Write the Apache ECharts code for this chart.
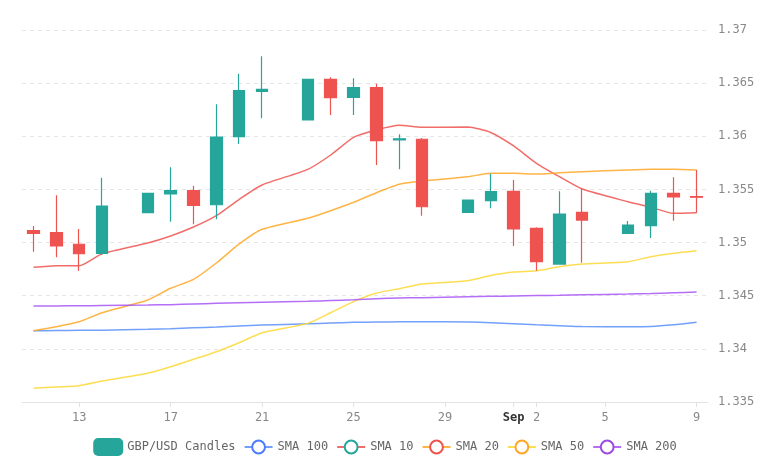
<!DOCTYPE html>
<html>
<head>
<meta charset="utf-8">
<script src="https://cdn.jsdelivr.net/npm/echarts@6/dist/echarts.min.js"></script>
<style>
  html, body { margin: 0; padding: 0; background: #fff; }
  #chart { width: 770px; height: 463px; }
</style>
</head>
<body>
<div id="chart"></div>
<script>
// trading days shown on the chart
var dates = [
  '2025-08-11', '2025-08-12', '2025-08-13', '2025-08-14', '2025-08-16', '2025-08-17',
  '2025-08-18', '2025-08-19', '2025-08-20', '2025-08-21', '2025-08-23', '2025-08-24',
  '2025-08-25', '2025-08-26', '2025-08-27', '2025-08-28', '2025-08-30', '2025-08-31',
  '2025-09-01', '2025-09-02', '2025-09-03', '2025-09-04', '2025-09-06', '2025-09-07',
  '2025-09-08', '2025-09-09'
];
var open = [1.35112, 1.35093, 1.34984, 1.34899, 1.35281, 1.35457, 1.35488, 1.35356, 1.35996, 1.36423,
  1.36153, 1.36536, 1.36367, 1.36457, 1.35965, 1.35972, 1.35285, 1.35394, 1.35482, 1.35134,
  1.34798, 1.35285, 1.35087, 1.35159, 1.35463, 1.35432];
var close = [1.35087, 1.34968, 1.34895, 1.35344, 1.35463, 1.35488, 1.35350, 1.35993, 1.36429, 1.36442,
  1.36536, 1.36363, 1.36457, 1.35959, 1.35977, 1.35337, 1.35400, 1.35479, 1.35128, 1.34820,
  1.35269, 1.35212, 1.35165, 1.35463, 1.35429, 1.35427];
var low = [1.34914, 1.34861, 1.34735, 1.34883, 1.35281, 1.35196, 1.35172, 1.35219, 1.35927, 1.36169,
  1.36153, 1.36200, 1.36200, 1.35730, 1.35689, 1.35253, 1.35285, 1.35322, 1.34968, 1.34735,
  1.34798, 1.34810, 1.35087, 1.35043, 1.35206, 1.35281];
var high = [1.35156, 1.35445, 1.35128, 1.35610, 1.35463, 1.35708, 1.35535, 1.36301, 1.36589, 1.36753,
  1.36536, 1.36555, 1.36545, 1.36495, 1.36019, 1.35984, 1.35400, 1.35648, 1.35589, 1.35144,
  1.35482, 1.35504, 1.35203, 1.35488, 1.35614, 1.35683];

var sma10 = [1.34767, 1.34782, 1.34782, 1.34895, 1.34996, 1.35062, 1.35146, 1.35253, 1.35407, 1.35542,
  1.35689, 1.35824, 1.35990, 1.36059, 1.36103, 1.36085, 1.36087, 1.36036, 1.35909, 1.35746,
  1.35620, 1.35504, 1.35384, 1.35332, 1.35275, 1.35281];
var sma20 = [1.34171, 1.34208, 1.34255, 1.34340, 1.34460, 1.34570, 1.34654, 1.34808, 1.34987, 1.35125,
  1.35229, 1.35300, 1.35379, 1.35469, 1.35548, 1.35579, 1.35620, 1.35652, 1.35652, 1.35645,
  1.35657, 1.35667, 1.35683, 1.35689, 1.35689, 1.35683];
var sma50 = [1.33629, 1.33641, 1.33653, 1.33697, 1.33770, 1.33832, 1.33902, 1.33973, 1.34058, 1.34152,
  1.34240, 1.34340, 1.34444, 1.34525, 1.34566, 1.34610, 1.34641, 1.34690, 1.34723, 1.34735,
  1.34773, 1.34798, 1.34820, 1.34867, 1.34899, 1.34923];
var sma100 = [1.34171, 1.34172, 1.34174, 1.34176, 1.34184, 1.34190, 1.34198, 1.34206, 1.34215, 1.34224,
  1.34236, 1.34243, 1.34250, 1.34252, 1.34254, 1.34255, 1.34252, 1.34246, 1.34236, 1.34226,
  1.34218, 1.34210, 1.34208, 1.34210, 1.34226, 1.34250];
var sma200 = [1.34403, 1.34404, 1.34405, 1.34407, 1.34412, 1.34416, 1.34422, 1.34428, 1.34433, 1.34438,
  1.34448, 1.34455, 1.34462, 1.34472, 1.34478, 1.34482, 1.34490, 1.34494, 1.34498, 1.34501,
  1.34504, 1.34508, 1.34515, 1.34520, 1.34527, 1.34535];

// x-axis tick dates and their labels
var tickDates = ['2025-08-13', '2025-08-17', '2025-08-21', '2025-08-25', '2025-08-29',
  '2025-09-01', '2025-09-02', '2025-09-05', '2025-09-09'];
var tickLabels = ['13', '17', '21', '25', '29', 'Sep', '2', '5', '9'];
var xRange = ['2025-08-10', '2025-09-09']; // half a day padding added on each side

var yTicks = { min: 1.335, max: 1.37, step: 0.005 };

var UP = '#26a69a', DOWN = '#ef5350';
var FONT = "'DejaVu Sans Mono', monospace";

// day number counted from the start of August (UTC, so no DST drift)
function dayNum(s) {
  var p = s.split('-');
  return Math.round((Date.UTC(+p[0], +p[1] - 1, +p[2]) - Date.UTC(2025, 7, 0)) / 86400000);
}

function pairs(vals) {
  return dates.map(function (d, i) { return [dayNum(d), vals[i]]; });
}

var candles = dates.map(function (d, i) {
  return [dayNum(d), open[i], close[i], low[i], high[i]];
});

var tickDays = tickDates.map(dayNum);

function smaSeries(name, values, lineColor, dotColor, z) {
  return {
    name: name,
    type: 'line',
    data: pairs(values),
    showSymbol: false,
    symbol: 'emptyCircle',
    symbolSize: 8,
    smooth: 0.2,
    z: z,
    itemStyle: { color: dotColor },
    lineStyle: { color: lineColor, width: 1.5, opacity: 0.85 },
    emphasis: { disabled: true }
  };
}

var chart = echarts.init(document.getElementById('chart'));
chart.setOption({
  animation: false,
  grid: { left: 22, right: 62, top: 30, bottom: 61 },
  legend: {
    bottom: 2,
    itemWidth: 28,
    itemHeight: 16,
    itemGap: 8,
    textStyle: { fontFamily: FONT, fontSize: 12, color: '#666' },
    data: ['GBP/USD Candles', 'SMA 100', 'SMA 10', 'SMA 20', 'SMA 50', 'SMA 200']
  },
  xAxis: {
    type: 'value',
    min: dayNum(xRange[0]) + 0.5,
    max: dayNum(xRange[1]) + 0.5,
    axisLine: { lineStyle: { color: '#e3e3e3' } },
    axisTick: { show: true, customValues: tickDays, lineStyle: { color: '#e3e3e3' } },
    axisLabel: {
      fontFamily: FONT, fontSize: 12, color: '#888', margin: 10,
      hideOverlap: false,
      customValues: tickDays,
      formatter: function (v) {
        var i = tickDays.indexOf(Math.round(v));
        var t = i >= 0 ? tickLabels[i] : '';
        return isNaN(+t) ? '{m|' + t + '}' : t;
      },
      rich: { m: { fontFamily: FONT, fontSize: 12, fontWeight: 'bold', color: '#333' } }
    },
    splitLine: { show: false }
  },
  yAxis: {
    type: 'value',
    position: 'right',
    min: yTicks.min,
    max: yTicks.max,
    interval: yTicks.step,
    axisLine: { show: false },
    axisTick: { show: false },
    axisLabel: { fontFamily: FONT, fontSize: 12, color: '#888', margin: 10 },
    splitLine: { lineStyle: { color: '#e6e6e6', type: [4, 4] } }
  },
  series: [
    {
      name: 'GBP/USD Candles',
      type: 'candlestick',
      data: candles,
      barWidth: 12,
      z: 3,
      itemStyle: {
        color: UP, color0: DOWN,
        borderColor: UP, borderColor0: DOWN,
        borderWidth: 1.2
      }
    },
    smaSeries('SMA 100', sma100, '#5b8ff9', '#4d7cfe', 2),
    smaSeries('SMA 10', sma10, '#ef5350', UP, 2),
    smaSeries('SMA 20', sma20, '#ffa726', '#ef5350', 2),
    smaSeries('SMA 50', sma50, '#fdd835', '#ffa726', 2),
    smaSeries('SMA 200', sma200, '#a855f7', '#9c4ddb', 2)
  ]
});
</script>
</body>
</html>
